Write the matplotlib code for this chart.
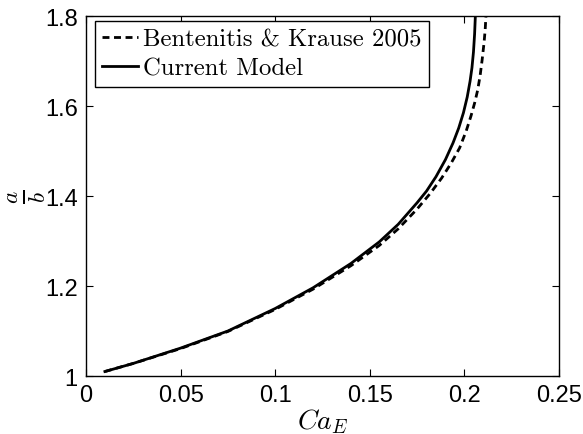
import matplotlib
matplotlib.use("Agg")
import matplotlib.pyplot as plt
from matplotlib.ticker import FormatStrFormatter

# values
ca_current = [0.01, 0.025, 0.05, 0.075, 0.1, 0.12, 0.14, 0.155, 0.165, 0.175, 0.18,
              0.185, 0.19, 0.194, 0.197, 0.1995, 0.2015, 0.203, 0.204, 0.2048,
              0.2054, 0.2058]
ab_current = [1.01, 1.028, 1.062, 1.10, 1.15, 1.196, 1.25, 1.298, 1.337, 1.385, 1.411,
              1.443, 1.481, 1.518, 1.551, 1.585, 1.62, 1.655, 1.685, 1.72,
              1.76, 1.80]

ca_bk = [0.01, 0.025, 0.05, 0.075, 0.1, 0.12, 0.14, 0.155, 0.165, 0.175, 0.182,
         0.188, 0.193, 0.1975, 0.201, 0.2035, 0.2055, 0.207, 0.2083, 0.2094,
         0.2104, 0.211, 0.2114]
ab_bk = [1.01, 1.028, 1.061, 1.099, 1.148, 1.193, 1.245, 1.29, 1.327, 1.371, 1.406,
         1.44, 1.473, 1.507, 1.545, 1.578, 1.608, 1.635, 1.667, 1.703,
         1.741, 1.77, 1.80]

xticks = [0, 0.05, 0.1, 0.15, 0.2, 0.25]
yticks = [1, 1.2, 1.4, 1.6, 1.8]

plt.rcParams["font.family"] = ["Liberation Sans", "DejaVu Sans"]
plt.rcParams["mathtext.fontset"] = "cm"
plt.rcParams["lines.scale_dashes"] = False

fig = plt.figure(figsize=(5.83, 4.35), dpi=100)
ax = fig.add_axes([0.1475, 0.1333, 0.8113, 0.8276])

ax.plot(ca_bk, ab_bk, color="black", lw=2, linestyle=(0, (5, 3.3)),
        label="Bentenitis & Krause 2005")
ax.plot(ca_current, ab_current, color="black", lw=2, label="Current Model")

ax.set_xlim(0, 0.25)
ax.set_ylim(1, 1.8)
ax.set_xticks(xticks)
ax.set_yticks(yticks)
ax.xaxis.set_major_formatter(FormatStrFormatter("%g"))
ax.yaxis.set_major_formatter(FormatStrFormatter("%g"))
ax.tick_params(direction="in", top=True, right=True, length=5, width=0.8,
               labelsize=17, pad=6)
for s in ax.spines.values():
    s.set_linewidth(1.0)

ax.set_xlabel(r"$Ca_E$", fontsize=20, labelpad=0)
ax.set_ylabel(r"$\frac{a}{b}$", fontsize=24, rotation=90, va="center", ha="center")
ax.yaxis.set_label_coords(-0.125, 0.5)

leg = ax.legend(loc="upper left", bbox_to_anchor=(0.019, 0.986), borderaxespad=0,
                prop={"family": "cmr10", "size": 17.8}, handlelength=1.45,
                handletextpad=0.2, borderpad=0.3, labelspacing=0.25,
                fancybox=False, framealpha=1, edgecolor="black")
leg.get_frame().set_linewidth(1.0)

fig.savefig("out.png", dpi=100)
